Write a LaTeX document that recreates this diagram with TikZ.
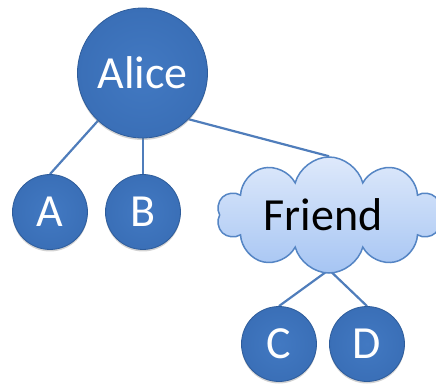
\documentclass[tikz,border=0pt]{standalone}
\usepackage{fontspec}
\setmainfont{Carlito}
\usetikzlibrary{shapes.symbols,shadows,backgrounds}
\definecolor{ballblue}{HTML}{3A6FB7}
\definecolor{balledge}{HTML}{2E5C9A}
\definecolor{balllight}{HTML}{4279C2}
\definecolor{linkblue}{HTML}{4F7DBB}
\definecolor{cloudtop}{HTML}{DEE9FB}
\definecolor{cloudbot}{HTML}{A6C5F3}
\definecolor{cloudedge}{HTML}{5585C4}
\tikzset{
  ball/.style={circle, draw=balledge, line width=0.8pt, inner color=balllight, outer color=ballblue,
    text=white, font=\fontsize{46}{50}\selectfont, inner sep=0pt,
    drop shadow={opacity=0.35, shadow xshift=0pt, shadow yshift=-2pt}},
  friendcloud/.style={cloud, cloud puffs=10, cloud ignores aspect, draw=cloudedge, line width=1.5pt,
    top color=cloudtop, bottom color=cloudbot, text=black, font=\fontsize{46}{50}\selectfont,
    minimum width=224pt, minimum height=116pt, inner sep=0pt},
  link/.style={draw=linkblue, line width=2.2pt}
}
\begin{document}
\begin{tikzpicture}[x=1pt,y=-1pt]
\useasboundingbox (0,0) rectangle (436,387);
\node[ball, minimum size=130pt] (Alice) at (142.5,73) {Alice};
\node[ball, minimum size=75pt] (A) at (50,212) {A};
\node[ball, minimum size=75pt] (B) at (143,212) {B};
\node[friendcloud] (Friend) at (329,215) {\hspace*{-12pt}Friend};
\node[ball, minimum size=75pt] (C) at (279,344) {C};
\node[ball, minimum size=75pt] (D) at (367,344) {D};
\coordinate (Fb) at ([yshift=4pt]Friend.south);
\begin{scope}[on background layer]
\draw[link] (A.north) -- (Alice.227);
\draw[link] (B.north) -- (B.north |- Alice.center);
\draw[link] (Alice.-45) -- (Friend.north);
\draw[link] (Fb) -- (C.north);
\draw[link] (Fb) -- (D.north);
\end{scope}
\end{tikzpicture}
\end{document}
